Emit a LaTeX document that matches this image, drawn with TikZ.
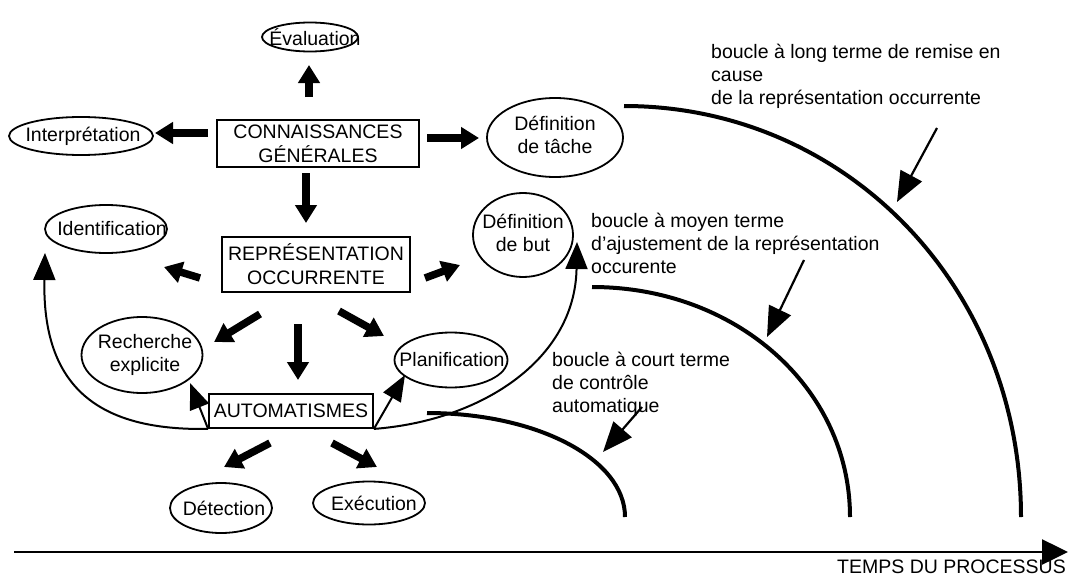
\documentclass[tikz,border=0pt]{standalone}
\usepackage{fontspec}
\setmainfont{Liberation Sans}
\usetikzlibrary{arrows.meta,shapes.geometric}
\begin{document}
\begin{tikzpicture}[x=1pt,y=-1pt,
  every node/.style={font=\fontsize{19.5}{23}\selectfont},
  oval/.style={draw, ellipse, line width=1.8pt, inner sep=0pt},
  box/.style={draw, rectangle, line width=1.8pt, inner sep=0pt, align=center, font=\fontsize{19.5}{24}\selectfont},
  fat/.style={line width=7.5pt, -{Triangle[length=18pt,width=21pt]}},
  looparrow/.style={line width=2pt, -{Triangle[length=27pt,width=22pt]}},
  cornerarrow/.style={line width=2pt, -{Triangle[length=26pt,width=20pt]}},
  pointer/.style={line width=2.2pt, -{Triangle[length=30pt,width=24pt]}},
  arcline/.style={line width=4pt},
  axisline/.style={line width=2.5pt, -{Triangle[length=26pt,width=25pt]}},
  lbl/.style={align=left, inner sep=0pt, anchor=north west, font=\fontsize{19.5}{23}\selectfont},
]
\useasboundingbox (0,0) rectangle (1068,586);

% nodes
\node[oval, minimum width=96pt, minimum height=29pt] (eval) at (310,37) {\makebox[0pt]{\hspace*{10pt}Évaluation}};
\node[oval, minimum width=144pt, minimum height=38pt] (interp) at (81,136) {\makebox[0pt]{\hspace*{4pt}Interprétation}};
\node[box, minimum width=202pt, minimum height=47pt] (conn) at (318,143.5) {CONNAISSANCES\\GÉNÉRALES};
\node[oval, minimum width=136pt, minimum height=79pt] (tache) at (555,137.5) {\makebox[0pt]{\begin{tabular}{@{}c@{}}Définition\\de tâche\end{tabular}}};
\node[oval, minimum width=122pt, minimum height=48pt] (ident) at (106,229) {\makebox[0pt]{\hspace*{12pt}Identification}};
\node[box, minimum width=188pt, minimum height=55pt] (rep) at (316,264.5) {REPRÉSENTATION\\OCCURRENTE};
\node[oval, minimum width=100pt, minimum height=84pt] (but) at (523,235) {\makebox[0pt]{\begin{tabular}{@{}c@{}}Définition\\de but\end{tabular}}};
\node[oval, minimum width=121pt, minimum height=76pt] (rech) at (142,355) {\makebox[0pt]{\hspace*{6pt}\begin{tabular}{@{}c@{}}Recherche\\explicite\end{tabular}}};
\node[oval, minimum width=113pt, minimum height=55pt] (planif) at (451,360) {\makebox[0pt]{\hspace*{2pt}Planification}};
\node[box, minimum width=164pt, minimum height=34pt] (auto) at (291,411) {AUTOMATISMES};
\node[oval, minimum width=102pt, minimum height=50pt] (detect) at (221,508) {\makebox[0pt]{\hspace*{6pt}Détection}};
\node[oval, minimum width=112pt, minimum height=43pt] (exec) at (369,503) {\makebox[0pt]{\hspace*{10pt}Exécution}};

% thick arrows
\draw[fat] ([shift={(-9,-46.5)}]conn.center) -- ([shift={(-1,28)}]eval.center);
\draw[fat] ([shift={(-110,-10.5)}]conn.center) -- ([shift={(74,-3)}]interp.center);
\draw[fat] ([shift={(109,-5.5)}]conn.center) -- ([shift={(-76,0.5)}]tache.center);
\draw[fat] ([shift={(-12,29.5)}]conn.center) -- ([shift={(-10,-41.5)}]rep.center);
\draw[fat] ([shift={(-116,13.5)}]rep.center) -- ([shift={(58,38)}]ident.center);
\draw[fat] ([shift={(109,13.5)}]rep.center) -- ([shift={(-63,30)}]but.center);
\draw[fat] ([shift={(-56,49.5)}]rep.center) -- ([shift={(72,-13)}]rech.center);
\draw[fat] ([shift={(-18,59.5)}]rep.center) -- ([shift={(7,-31)}]auto.center);
\draw[fat] ([shift={(23,46.5)}]rep.center) -- ([shift={(-67,-24)}]planif.center);
\draw[fat] ([shift={(-21,32)}]auto.center) -- ([shift={(3,-41)}]detect.center);
\draw[fat] ([shift={(41,32)}]auto.center) -- ([shift={(8,-36)}]exec.center);

% loops
\draw[looparrow] (auto.south west) .. controls +(-109,2) and +(-3,135) .. ([shift={(-61,24)}]ident.center);
\draw[looparrow] (auto.south east) .. controls +(107,-8) and +(-2,118) .. ([shift={(54,7)}]but.center);
\draw[cornerarrow] (auto.south west) -- ([shift={(48,28)}]rech.center);
\draw[cornerarrow] (auto.south east) -- ([shift={(-46,15)}]planif.center);

% arcs
\draw[arcline] (624,106) .. controls (846,106) and (1021,287) .. (1021,517);
\draw[arcline] (592,287) .. controls (736,287) and (850,388) .. (850,517);
\draw[arcline] (427,413) .. controls (537,413) and (625,459) .. (625,517);

% labels
\node[lbl] (longlbl) at (711,44) {boucle à long terme de remise en\\cause\\de la représentation occurrente};
\node[lbl] (medlbl) at (591,213) {boucle à moyen terme\\d’ajustement de la représentation\\occurente};
\node[lbl] (shortlbl) at (552,352) {boucle à court terme\\de contrôle\\automatique};

% pointers
\coordinate (pA1) at (937,128); \coordinate (pA2) at (897,202);
\coordinate (pB1) at (804,260); \coordinate (pB2) at (767,337);
\coordinate (pC1) at (642,407); \coordinate (pC2) at (603,452);
\draw[pointer] (pA1) -- (pA2);
\draw[pointer] (pB1) -- (pB2);
\draw[pointer] (pC1) -- (pC2);

% time axis
\coordinate (t0) at (14,552); \coordinate (t1) at (1068,552);
\draw[axisline] (t0) -- (t1);
\node[anchor=east, inner sep=0pt] (temps) at (1066,567) {TEMPS DU PROCESSUS};
\end{tikzpicture}
\end{document}
